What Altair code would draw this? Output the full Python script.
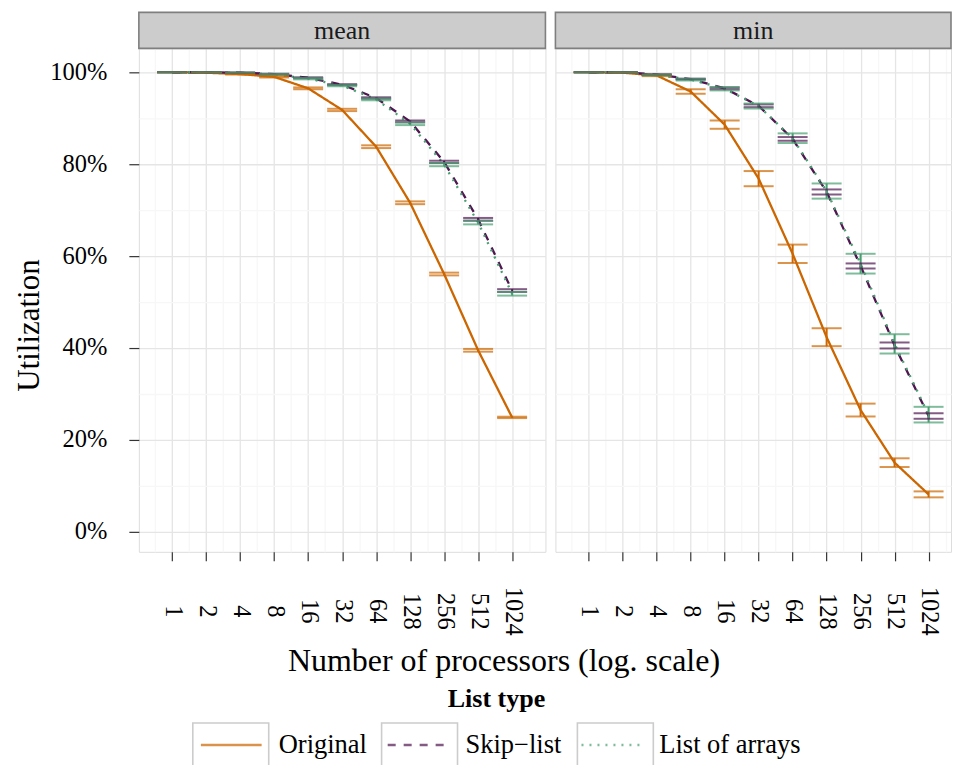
import altair as alt
import pandas as pd

# ---------------- data ----------------
procs = [1, 2, 4, 8, 16, 32, 64, 128, 256, 512, 1024]
types = ["Original", "Skip\u2212list", "List of arrays"]
stats = ["mean", "min"]
colors = ["#CC6600", "#4F1650", "#48A072"]
dashes = [[1, 0], [8, 8], [2, 6]]

# utilization in percent, and half-width of the error bar
mean_orig = [100, 99.9, 99.6, 99.0, 96.5, 91.8, 83.8, 71.6, 56.1, 39.5, 24.9]
mean_orig_err = [0, 0.05, 0.1, 0.15, 0.2, 0.25, 0.3, 0.3, 0.3, 0.3, 0.15]
mean_skip = [100, 100, 99.9, 99.6, 98.8, 97.3, 94.4, 89.3, 80.5, 68.0, 52.5]
mean_skip_err = [0, 0, 0.05, 0.1, 0.1, 0.1, 0.15, 0.2, 0.25, 0.3, 0.3]
mean_loa = [100, 100, 99.9, 99.5, 98.6, 97.1, 94.1, 88.8, 79.9, 67.3, 51.8]
mean_loa_err = [0, 0, 0.05, 0.1, 0.15, 0.15, 0.2, 0.3, 0.35, 0.4, 0.4]

min_orig = [100, 99.9, 99.3, 95.8, 88.6, 76.85, 60.5, 42.35, 26.5, 15.05, 8.15]
min_orig_err = [0, 0.05, 0.15, 0.5, 0.9, 1.65, 2.0, 1.95, 1.4, 0.95, 0.65]
min_skip = [100, 100, 99.5, 98.5, 96.5, 92.7, 85.5, 73.95, 57.85, 40.55, 25.2]
min_skip_err = [0, 0, 0.05, 0.1, 0.2, 0.3, 0.4, 0.55, 0.55, 0.65, 0.6]
min_loa = [100, 100, 99.4, 98.4, 96.4, 92.65, 85.65, 74.15, 58.35, 40.9, 25.5]
min_loa_err = [0, 0, 0.1, 0.2, 0.35, 0.55, 1.05, 1.65, 2.15, 2.1, 1.7]

y_major = [0, 0.2, 0.4, 0.6, 0.8, 1.0]
y_minor = [0.1, 0.3, 0.5, 0.7, 0.9]
x_minor = [0.7071, 1.4142, 2.8284, 5.6569, 11.314, 22.627, 45.255, 90.51, 181.02, 362.04, 724.08, 1448.2]

series = {
    ("mean", types[0]): (mean_orig, mean_orig_err),
    ("mean", types[1]): (mean_skip, mean_skip_err),
    ("mean", types[2]): (mean_loa, mean_loa_err),
    ("min", types[0]): (min_orig, min_orig_err),
    ("min", types[1]): (min_skip, min_skip_err),
    ("min", types[2]): (min_loa, min_loa_err),
}
rows = []
for (st, tp), (vals, errs) in series.items():
    for p, v, e in zip(procs, vals, errs):
        rows.append({"stat": st, "type": tp, "key": tp, "procs": p,
                     "value": v / 100.0, "err": e / 100.0})
df = pd.DataFrame(rows)

FONT = "Liberation Serif"
PANEL_H = 504
STRIP_H = 36
LEFT_W = 407
RIGHT_W = 396

KEY_W = 76 * 76
LINE_PATH = "M-0.8,0H0.8"
BOX_PATH = "M-1,-0.57H1V0.57H-1Z"

legend_common = dict(
    title="List type", orient="none", legendX=53, legendY=638,
    direction="horizontal", titleAnchor="middle", titleOrient="top",
    symbolSize=KEY_W, labelFontSize=26.5, titleFontSize=26, titleFontWeight="bold",
    labelFont=FONT, titleFont=FONT, columnPadding=11, labelOffset=8,
    titlePadding=-6,
)
line_legend = alt.Legend(symbolType=LINE_PATH, symbolStrokeWidth=2.5,
                         labelColor="black", titleColor="black", **legend_common)
box_legend = alt.Legend(symbolStrokeWidth=1.6, symbolStrokeColor="#CCCCCC",
                        symbolFillColor="transparent", symbolOpacity=1,
                        labelColor="transparent", titleColor="transparent", **legend_common)

color_enc = alt.Color("type:N", scale=alt.Scale(domain=types, range=colors), legend=line_legend)
dash_enc = alt.StrokeDash("type:N", scale=alt.Scale(domain=types, range=dashes), legend=line_legend)


def panel(stat, width, xmax_exp, show_y):
    xdom = [2 ** -0.98, 2 ** xmax_exp]
    ydom = [-0.0435, 1.052]
    base = alt.Chart(df).transform_filter(alt.datum.stat == stat).transform_calculate(
        lo="datum.value - datum.err", hi="datum.value + datum.err")

    xscale = alt.Scale(type="log", base=2, domain=xdom, nice=False)
    yscale = alt.Scale(domain=ydom, nice=False, zero=False)

    xaxis_kw = dict(
        orient="bottom", values=procs, format="d", labelAngle=90, labelAlign="center",
        labelBaseline="middle", labelPadding=50, tickSize=9, tickColor="#333333", tickWidth=1.2,
        labelFontSize=24.5, labelFont=FONT, labelColor="black",
        grid=True, gridColor="#E5E5E5", gridWidth=1.3, domain=False)
    if show_y:
        x_axis = alt.Axis(title="Number of processors (log. scale)", titleX=365, titleY=119,
                          titleAlign="center", titleBaseline="alphabetic", titleFontSize=32,
                          titleFont=FONT, titleFontWeight="normal", titleColor="black", **xaxis_kw)
    else:
        x_axis = alt.Axis(title=None, **xaxis_kw)
    x_major = alt.X("procs:Q", scale=xscale, axis=x_axis)

    if show_y:
        y_axis = alt.Axis(orient="left", values=y_major, format=".0%", tickSize=10, tickColor="#333333",
                          tickWidth=1.2, labelPadding=22, labelFontSize=24.5, labelFont=FONT,
                          labelColor="black", title="Utilization", titleFontSize=31,
                          titleFont=FONT, titleFontWeight="normal", titleColor="black",
                          titlePadding=4, titleY=277, grid=True, gridColor="#E5E5E5",
                          gridWidth=1.3, domain=False)
    else:
        y_axis = alt.Axis(orient="left", values=y_major, labels=False, ticks=False, title=None,
                          grid=True, gridColor="#E5E5E5", gridWidth=1.3, domain=False)
    y_major_enc = alt.Y("value:Q", scale=yscale, axis=y_axis)

    minor = base.mark_rule(opacity=0).encode(
        x=alt.X("procs:Q", scale=xscale, title=None, axis=alt.Axis(
            orient="top", values=x_minor, labels=False, ticks=False, domain=False,
            grid=True, gridColor="#F7F7F7", gridWidth=1.3)),
        y=alt.Y("value:Q", scale=yscale, title=None, axis=alt.Axis(
            orient="right", values=y_minor, labels=False, ticks=False, domain=False,
            grid=True, gridColor="#F7F7F7", gridWidth=1.3)),
    )

    xe = alt.X("procs:Q", scale=xscale, axis=None)

    # invisible points that only carry the legend key boxes
    keys = base.mark_point(opacity=0).encode(
        x=xe, y=alt.Y("value:Q", scale=yscale, axis=None),
        shape=alt.Shape("key:N", sort=types, scale=alt.Scale(range=[BOX_PATH] * 3),
                        legend=box_legend))

    lines = base.mark_line(strokeWidth=2.3).encode(
        x=x_major, y=y_major_enc, color=color_enc, strokeDash=dash_enc,
        order=alt.Order("procs:Q"), detail="type:N")

    ebar = base.mark_rule(strokeWidth=2).encode(
        x=xe, y=alt.Y("lo:Q", scale=yscale, axis=None), y2="hi:Q", color=color_enc)
    cap_lo = base.mark_tick(orient="horizontal", size=30, thickness=2).encode(
        x=xe, y=alt.Y("lo:Q", scale=yscale, axis=None), color=color_enc)
    cap_hi = base.mark_tick(orient="horizontal", size=30, thickness=2).encode(
        x=xe, y=alt.Y("hi:Q", scale=yscale, axis=None), color=color_enc)

    strip_df = pd.DataFrame({"stat": [stat]})
    strip = alt.Chart(strip_df).mark_rect(fill="#CCCCCC", stroke="#7F7F7F", strokeWidth=1.6).encode(
        x=alt.value(0), x2=alt.value(width), y=alt.value(-STRIP_H), y2=alt.value(0))
    strip_txt = alt.Chart(strip_df).mark_text(font=FONT, fontSize=26, color="#1A1A1A",
                                              baseline="middle", align="center").encode(
        text="stat:N", x=alt.value(width / 2), y=alt.value(-STRIP_H / 2 + 1))

    return alt.layer(minor, keys, lines, ebar, cap_lo, cap_hi, strip, strip_txt).resolve_axis(
        x="independent", y="independent").properties(width=width, height=PANEL_H)


left = panel("mean", LEFT_W, 10.98, True)
right = panel("min", RIGHT_W, 10.66, False)

chart = alt.hconcat(left, right, spacing=10, bounds="flush").resolve_scale(
    x="independent", y="independent", color="shared", strokeDash="shared", shape="shared"
).properties(
    padding={"left": 13, "top": 10, "right": 0, "bottom": 0},
).configure_view(stroke="#7F7F7F", strokeWidth=1.8).configure(background="white")

chart.save("out.html", embed_options={"renderer": "svg", "actions": False})
